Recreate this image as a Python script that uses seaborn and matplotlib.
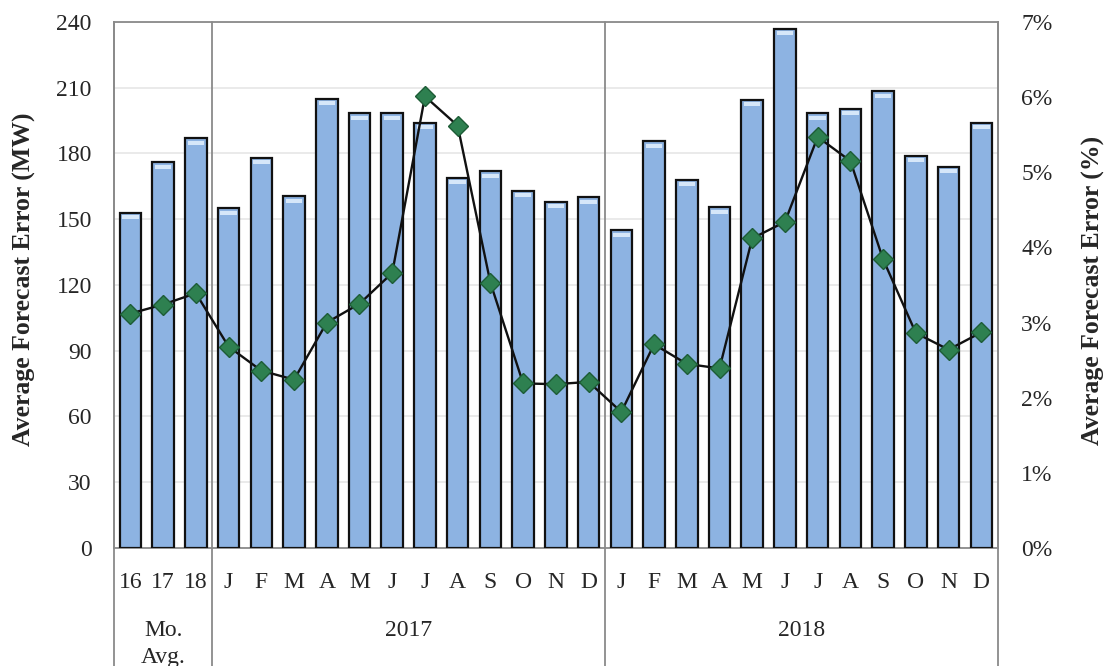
import numpy as np
import pandas as pd
import matplotlib
matplotlib.use("Agg")
import matplotlib.pyplot as plt
from matplotlib.lines import Line2D
from matplotlib.patches import Rectangle
import matplotlib.transforms as mtransforms
import seaborn as sns

# ---------------- data ----------------
groups = ["Mo.\nAvg.", "2017", "2018"]
avg_labels = ["16", "17", "18"]
months = ["J", "F", "M", "A", "M", "J", "J", "A", "S", "O", "N", "D"]

avg_mw = [153, 176, 187]
mw_2017 = [155, 178, 160.5, 205, 198.5, 198.5, 194, 169, 172, 163, 158, 160]
mw_2018 = [145, 185.5, 168, 155.5, 204.5, 237, 198.5, 200.5, 208.5, 179, 174, 194]

avg_pct = [3.12, 3.24, 3.39]
pct_2017 = [2.68, 2.36, 2.24, 3.00, 3.25, 3.66, 6.01, 5.62, 3.53, 2.19, 2.18, 2.21]
pct_2018 = [1.81, 2.71, 2.45, 2.39, 4.12, 4.34, 5.47, 5.15, 3.84, 2.86, 2.64, 2.87]

tick_labels = avg_labels + months + months
keys = [f"avg-{l}" for l in avg_labels] + [f"2017-{i}" for i in range(12)] + [f"2018-{i}" for i in range(12)]
df = pd.DataFrame({
    "key": keys,
    "mw": avg_mw + mw_2017 + mw_2018,
    "pct": avg_pct + pct_2017 + pct_2018,
})
group_sizes = [len(avg_labels), len(months), len(months)]

# ---------------- style ----------------
sns.set_theme(style="white")
plt.rcParams["font.family"] = ["Liberation Serif", "DejaVu Serif"]

fig = plt.figure(figsize=(11.04, 6.66), dpi=100)
ax = fig.add_axes([0.1033, 0.1772, 0.8004, 0.7898])

bar_color = "#8DB3E2"
sns.barplot(data=df, x="key", y="mw", order=keys, color=bar_color, ax=ax,
            width=0.66, edgecolor="#111111", linewidth=1.6, saturation=1, zorder=3)

# light highlight at top of each bar
for p in ax.patches:
    x0, w, h = p.get_x(), p.get_width(), p.get_height()
    ax.add_patch(Rectangle((x0 + w * 0.12, h - 3.0), w * 0.76, 1.8,
                           facecolor="#D6E7F9", edgecolor="none", zorder=4))

ax.set_ylim(0, 240)
ax.set_yticks(np.arange(0, 241, 30))
ax.set_xlim(-0.5, len(keys) - 0.5)
ax.yaxis.grid(True, color="#E6E6E6", linewidth=1.2, zorder=0)
ax.set_axisbelow(True)
for s in ax.spines.values():
    s.set_color("#8A8A8A")
    s.set_linewidth(1.3)

ax.set_xticks(range(len(keys)))
ax.set_xticklabels(tick_labels, fontsize=17)
ax.tick_params(axis="x", length=0, pad=17)
ax.tick_params(axis="y", length=0, pad=16, labelsize=17)
ax.set_xlabel("")
ax.set_ylabel("Average Forecast Error (MW)", fontsize=18.5, fontweight="bold")
ax.yaxis.set_label_coords(-0.088, 0.51)

# secondary axis
ax2 = ax.twinx()
xpos = np.arange(len(keys))
sns.lineplot(x=xpos, y=df["pct"].values, ax=ax2, color="#111111", linewidth=1.7,
             marker="D", markersize=10, markerfacecolor="#2E8050",
             markeredgecolor="#1D5C36", markeredgewidth=1.0, zorder=6)

ax2.set_ylim(0, 7)
ax2.set_yticks(np.arange(0, 8, 1))
ax2.set_yticklabels([f"{v}%" for v in range(8)])
ax2.tick_params(axis="y", length=0, pad=17, labelsize=17)
ax2.set_ylabel("Average Forecast Error (%)", fontsize=18.5, fontweight="bold")
ax2.yaxis.set_label_coords(1.095, 0.49)
for sp in ax2.spines.values():
    sp.set_visible(False)
ax2.grid(False)

# group separators extending into the label area
trans = mtransforms.blended_transform_factory(ax.transData, ax.transAxes)
bounds = np.concatenate([[0], np.cumsum(group_sizes)]) - 0.5
for b in bounds:
    ax.add_line(Line2D([b, b], [-0.24, 1.0], transform=trans, color="#8A8A8A",
                       linewidth=1.3, clip_on=False, zorder=7))

# group labels
for i, g in enumerate(groups):
    center = (bounds[i] + bounds[i + 1]) / 2
    ax.text(center, -0.136, g, transform=trans, ha="center", va="top",
            fontsize=17, linespacing=1.38)

fig.savefig("out.png", dpi=100)
